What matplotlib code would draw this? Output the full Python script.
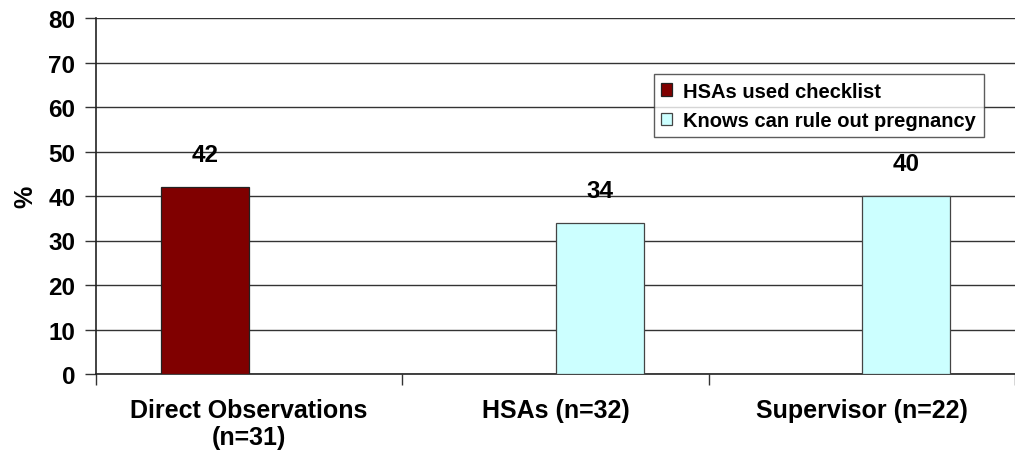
import numpy as np
import matplotlib.pyplot as plt

plt.rcParams['font.family'] = ['Liberation Sans', 'DejaVu Sans']
plt.rcParams['font.weight'] = 'bold'

# categories and series values (%)
categories = ['Direct Observations\n(n=31)', 'HSAs (n=32)', 'Supervisor (n=22)']
series_names = ['HSAs used checklist', 'Knows can rule out pregnancy']
used_checklist = [42, np.nan, np.nan]
knows_rule_out = [np.nan, 34, 40]
colors = ['#800000', '#CCFFFF']

fig = plt.figure(figsize=(10.15, 4.56), dpi=100)
ax = fig.add_axes([96 / 1015, 81 / 456, 919 / 1015, 356 / 456])

x = np.arange(len(categories))
w = 0.288
b1 = ax.bar(x - w / 2, used_checklist, w, color=colors[0], edgecolor='#222222',
            linewidth=0.9, label=series_names[0], zorder=3)
b2 = ax.bar(x + w / 2, knows_rule_out, w, color=colors[1], edgecolor='#444444',
            linewidth=0.9, label=series_names[1], zorder=3)

for bars, vals in ((b1, used_checklist), (b2, knows_rule_out)):
    for rect, v in zip(bars, vals):
        if np.isnan(v):
            continue
        ax.annotate(f'{v:g}', (rect.get_x() + rect.get_width() / 2, v),
                    xytext=(0, 15), textcoords='offset points',
                    ha='center', va='bottom', fontsize=17.5, fontweight='bold')

ax.set_ylim(0, 80)
ax.set_yticks(np.arange(0, 81, 10))
ax.set_xlim(-0.5, -0.5 + 919 / 310.7)
ax.yaxis.grid(True, color='#333333', linewidth=1.0, zorder=0)
ax.set_axisbelow(True)

# group boundaries as major ticks, labels on minor ticks at group centres
ax.set_xticks(np.arange(-0.5, 3, 1))
ax.set_xticklabels([])
ax.set_xticks(x, minor=True)
ax.set_xticklabels(categories, minor=True, fontsize=18, fontweight='bold')
ax.tick_params(axis='x', which='minor', length=0, pad=17)
ax.tick_params(axis='x', which='major', length=8, width=1, color='#333333')
ax.tick_params(axis='y', length=8, width=1, pad=7, labelsize=17.5, color='#333333')
for lbl in ax.get_yticklabels():
    lbl.set_fontweight('bold')

ax.spines['right'].set_visible(False)
ax.spines['top'].set_visible(False)
ax.spines['left'].set_color('#222222')
ax.spines['bottom'].set_color('#222222')
ax.spines['left'].set_linewidth(1.2)
ax.spines['bottom'].set_linewidth(1.2)

ax.set_ylabel('%', fontsize=18, fontweight='bold', labelpad=8)

leg = ax.legend(loc='upper right', bbox_to_anchor=(984 / 1015, 1 - 75 / 456),
                bbox_transform=fig.transFigure, fontsize=14.5, frameon=True,
                fancybox=False, edgecolor='#333333', handlelength=0.55,
                handleheight=0.55, handletextpad=0.55, labelspacing=0.5,
                borderpad=0.38, borderaxespad=0)
leg.get_frame().set_linewidth(1.0)
for t in leg.get_texts():
    t.set_fontweight('bold')

fig.savefig('out.png', dpi=100)
